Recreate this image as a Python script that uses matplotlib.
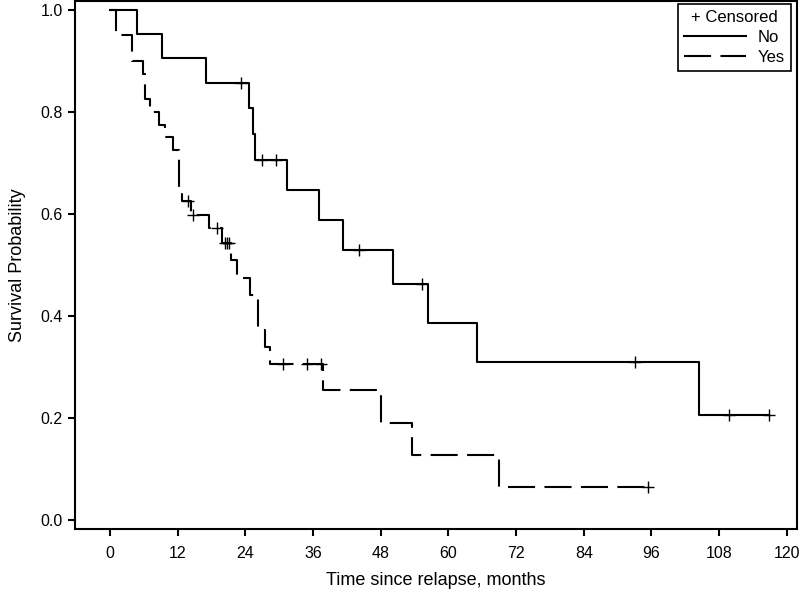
import matplotlib
matplotlib.use("Agg")
import matplotlib.pyplot as plt
from matplotlib.lines import Line2D

plt.rcParams['font.family'] = ['Liberation Sans', 'DejaVu Sans']
plt.rcParams['font.size'] = 11

# Kaplan-Meier steps: event time (months) and survival after it
no_t = [4.85, 9.2, 17.0, 24.6, 25.3, 25.7, 31.4, 37.1, 41.3, 50.1, 56.3, 65.1, 104.5]
no_s = [0.952, 0.905, 0.857, 0.807, 0.756, 0.706, 0.647, 0.588, 0.529, 0.463, 0.386, 0.309, 0.206]
# censored observations (time, survival level)
no_ct = [23.2, 26.9, 29.4, 44.2, 55.4, 93.0, 109.8, 116.9]
no_cs = [0.857, 0.706, 0.706, 0.529, 0.463, 0.309, 0.206, 0.206]

yes_t = [1.0, 3.9, 5.8, 6.2, 7.1, 8.7, 9.8, 11.1, 12.2, 12.8, 14.3, 17.6, 19.8,
         21.4, 22.6, 24.8, 26.2, 27.5, 28.4, 37.8, 48.0, 53.5, 69.0]
yes_s = [0.95, 0.90, 0.875, 0.825, 0.80, 0.775, 0.75, 0.725, 0.65, 0.625, 0.599, 0.572, 0.543,
         0.509, 0.475, 0.441, 0.373, 0.339, 0.305, 0.255, 0.191, 0.127, 0.064]
yes_ct = [13.9, 14.7, 18.9, 20.4, 20.7, 21.1, 30.7, 35.0, 37.5, 95.4]
yes_cs = [0.625, 0.599, 0.572, 0.543, 0.543, 0.543, 0.305, 0.305, 0.305, 0.064]

xticks = list(range(0, 121, 12))
yticks = [0.0, 0.2, 0.4, 0.6, 0.8, 1.0]

dashed = (0, (13, 4.5))

fig = plt.figure(figsize=(8, 5.95), dpi=100)
ax = fig.add_axes([75/800, 1-529/595, 722/800, 528/595])

#curves run from t=0 at 1.0 to the last censored time
for t, s, ct, cs, ls in [(no_t, no_s, no_ct, no_cs, '-'), (yes_t, yes_s, yes_ct, yes_cs, dashed)]:
    x = [0] + t + [max(ct)]
    y = [1.0] + s + [s[-1]]
    ax.step(x, y, where='post', color='black', lw=1.5, linestyle=ls)
    ax.plot(ct, cs, '+', color='black', ms=9, mew=1)

ax.set_xlim(-6.2, 121.8)
ax.set_ylim(-0.0176, 1.0176)
ax.set_xticks(xticks)
ax.set_yticks(yticks)
ax.set_yticklabels(["%.1f" % v for v in yticks])
ax.tick_params(width=1.5, length=5, labelsize=11.5)
ax.tick_params(axis='x', pad=7)
ax.tick_params(axis='y', pad=4)
for sp in ax.spines.values():
    sp.set_linewidth(1.5)

ax.set_xlabel("Time since relapse, months", fontsize=13, labelpad=8)
ax.set_ylabel("Survival Probability", fontsize=13, labelpad=10)

handles = [Line2D([], [], color='black', lw=1.5),
           Line2D([], [], color='black', lw=1.5, linestyle=dashed)]
leg = ax.legend(handles, ["No", "Yes"], title="+ Censored", loc='upper right',
                bbox_to_anchor=(0.9917, 0.994), fancybox=False, edgecolor='black',
                framealpha=1, handlelength=3.7, borderaxespad=0, borderpad=0.35,
                labelspacing=0.3, handletextpad=0.75, fontsize=12, title_fontsize=12)
leg.get_frame().set_linewidth(1.2)

plt.savefig("out.png", dpi=100)
